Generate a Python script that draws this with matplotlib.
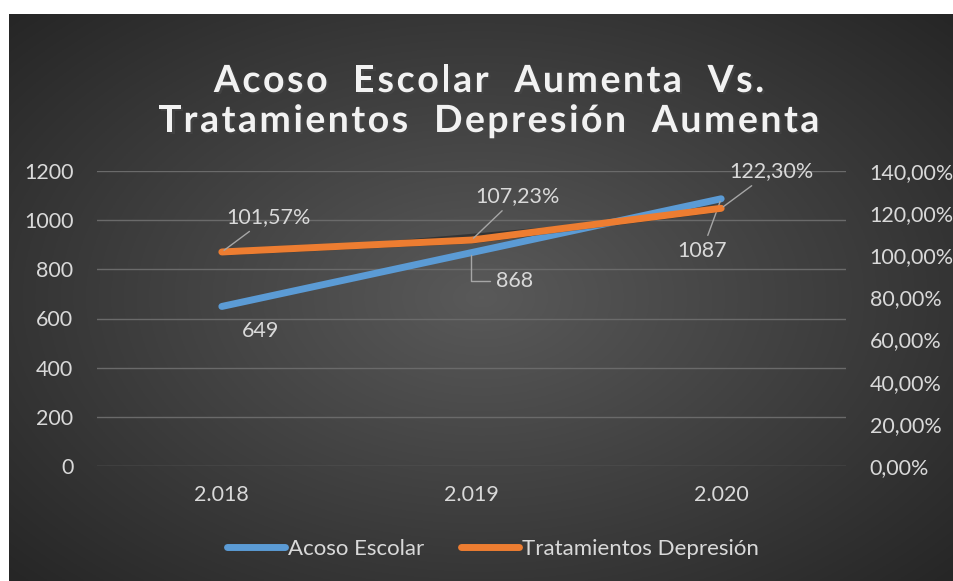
import numpy as np
import matplotlib
matplotlib.use("Agg")
import matplotlib.pyplot as plt
import matplotlib.patheffects as pe

# data
years = ["2.018", "2.019", "2.020"]
acoso = [649, 868, 1087]
tratamientos = [1.0157, 1.0723, 1.2230]
acoso_labels = ["649", "868", "1087"]
trat_labels = ["101,57%", "107,23%", "122,30%"]
left_ticks = [0, 200, 400, 600, 800, 1000, 1200]
right_ticks = [0, 0.2, 0.4, 0.6, 0.8, 1.0, 1.2, 1.4]
title_lines = ["Acoso  Escolar  Aumenta  Vs.", "Tratamientos  Depresión  Aumenta"]

BLUE = "#5b9bd5"
ORANGE = "#ed7d31"
TXT = "#d9d9d9"
FS = 15.5

plt.rcParams["font.family"] = ["Lato", "DejaVu Sans"]

fig = plt.figure(figsize=(9.54, 5.81), dpi=100)
fig.patch.set_facecolor("white")

# radial gradient background (chart area)
bg = fig.add_axes([9 / 954, 0, 1 - 9 / 954, 1 - 14 / 581])
yy, xx = np.mgrid[-1:1:300j, -1:1:500j]
r = np.sqrt((xx * 0.95) ** 2 + (yy * 0.9) ** 2)
shade = 0.35 - 0.2 * np.clip(r, 0, 1.3) / 1.3
bg.imshow(np.dstack([shade] * 3), aspect="auto", extent=[0, 1, 0, 1])
bg.set_axis_off()

ax = fig.add_axes([97 / 954, 1 - 466 / 581, (846 - 97) / 954, (466 - 171) / 581])
ax.patch.set_alpha(0)
ax2 = ax.twinx()

x = np.arange(len(years))
shadow = [pe.SimplePatchShadow(offset=(1.5, -2.5), shadow_rgbFace="black", alpha=0.35), pe.Normal()]

ax.plot(x, acoso, color=BLUE, lw=5, solid_capstyle="round", path_effects=shadow,
        label="Acoso Escolar", zorder=3)
ax2.plot(x, tratamientos, color=ORANGE, lw=5, solid_capstyle="round", path_effects=shadow,
         label="Tratamientos Depresión", zorder=3)

ax.set_xlim(-0.5, 2.5)
ax.set_ylim(0, 1200)
ax2.set_ylim(0, 1.4)
ax.set_yticks(left_ticks)
ax.set_yticklabels([str(v) for v in left_ticks])
ax2.set_yticks(right_ticks)
ax2.set_yticklabels([f"{v * 100:.2f}%".replace(".", ",") for v in right_ticks])
ax.set_xticks(x)
ax.set_xticklabels(years)

for a in (ax, ax2):
    for s in a.spines.values():
        s.set_visible(False)
    a.tick_params(length=0, labelsize=FS, colors=TXT)
ax.tick_params(axis="x", pad=14)
ax.tick_params(axis="y", pad=17)
ax2.tick_params(axis="y", pad=17)
ax.grid(axis="y", color="#6a6a6a", lw=1)
ax.set_axisbelow(True)

lead = dict(arrowstyle="-", color="#a6a6a6", lw=1, shrinkA=2, shrinkB=2)
trat_offsets = [(47, 35), (46, 44), (50, 37)]
for xi, v, lab, off in zip(x, tratamientos, trat_labels, trat_offsets):
    ax2.annotate(lab, (xi, v), xytext=off, textcoords="offset pixels", ha="center", va="center",
                 fontsize=FS, color=TXT, arrowprops=lead, zorder=5)

acoso_offsets = [(39, -25), (43, -28), (-19, -52)]
acoso_conn = [None, "angle,angleA=0,angleB=90,rad=0", None]
for xi, v, lab, off, conn in zip(x, acoso, acoso_labels, acoso_offsets, acoso_conn):
    props = None
    if xi > 0:
        props = dict(lead)
        if conn:
            props["connectionstyle"] = conn
    ax.annotate(lab, (xi, v), xytext=off, textcoords="offset pixels", ha="center", va="center",
                fontsize=FS, color=TXT, arrowprops=props, zorder=5)

# title with extra letter spacing, drawn character by character
title_fx = [pe.SimplePatchShadow(offset=(1.5, -1.5), alpha=0.6), pe.Normal()]
renderer = fig.canvas.get_renderer()
tracking = 2.5  # pixels between letters


def text_width(s, **kw):
    t = fig.text(0, 0, s.replace(" ", "\u00a0"), **kw)
    w = t.get_window_extent(renderer).width
    t.remove()
    return w


tkw = dict(fontsize=27, fontweight="bold")
for line, yc in zip(title_lines, [78, 118]):
    widths = [text_width(line[:i + 1], **tkw) for i in range(len(line))]
    total = widths[-1] + tracking * (len(line) - 1)
    x0 = 489 - total / 2
    for i, ch in enumerate(line):
        if ch == " ":
            continue
        start = (widths[i - 1] if i > 0 else 0) + tracking * i
        fig.text((x0 + start) / 954, 1 - yc / 581, ch, ha="left", va="center_baseline",
                 color="#f2f2f2", path_effects=title_fx, **tkw)

h1, l1 = ax.get_legend_handles_labels()
h2, l2 = ax2.get_legend_handles_labels()
fig.legend(h1 + h2, l1 + l2, loc="center", bbox_to_anchor=(493 / 954, 1 - 549 / 581), ncol=2,
           frameon=False, fontsize=16, labelcolor=TXT, handlelength=2.6,
           handletextpad=0.15, columnspacing=1.65)

fig.savefig("out.png", dpi=100, facecolor=fig.get_facecolor())
